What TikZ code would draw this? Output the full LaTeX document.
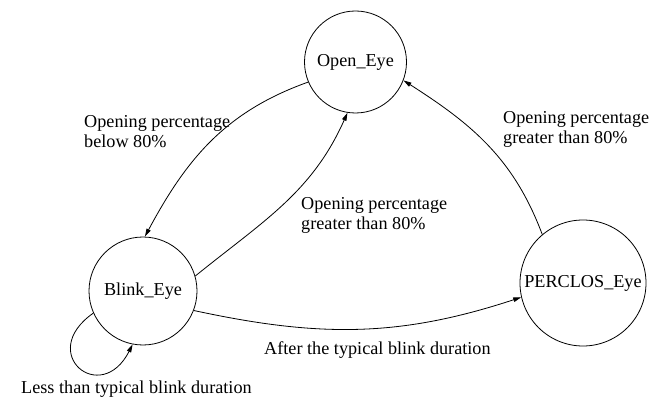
\documentclass[tikz,border=0pt]{standalone}
\usepackage{fontspec}
\setmainfont{Liberation Serif}
\usetikzlibrary{arrows.meta}
\begin{document}
\begin{tikzpicture}[x=1pt,y=1pt,
  every node/.style={font=\fontsize{18.2}{20}\selectfont},
  state/.style={draw,circle,inner sep=0pt,line width=0.8pt},
  edge/.style={line width=0.8pt,-{Triangle[length=8pt,width=4.5pt]}},
  lbl/.style={inner sep=0pt,align=left}]
\useasboundingbox (0,0) rectangle (662,397);
\node[state,minimum size=102pt] (open) at (355.5,335) {Open\_Eye};
\node[state,minimum size=108pt] (blink) at (143,106) {Blink\_Eye};
\node[state,minimum size=126pt] (perclos) at (583,114) {PERCLOS\_Eye};
\draw[edge] (open.203.8) to[out=199.6,in=61.8] (blink.88);
\draw[edge] (blink.16.8) to[out=39,in=246] (open.261.6);
\draw[edge] (perclos.130.5) to[out=110.6,in=327.4] (open.339);
\draw[edge] (blink.339.3) to[out=-12.2,in=198.2] (perclos.193.6);
\draw[edge] (blink.204) .. controls +(215:70pt) and +(243:70pt) .. (blink.259.5);
\node[lbl,anchor=north west] (l1) at (84,282) {Opening percentage\\below 80\%};
\node[lbl,anchor=north west] (l2) at (503,286) {Opening percentage\\greater than 80\%};
\node[lbl,anchor=north west] (l3) at (301,200) {Opening percentage\\greater than 80\%};
\node[lbl,anchor=base west] (l4) at (264,43) {After the typical blink duration};
\node[lbl,anchor=base west] (l5) at (21,3.5) {Less than typical blink duration};
\end{tikzpicture}
\end{document}
